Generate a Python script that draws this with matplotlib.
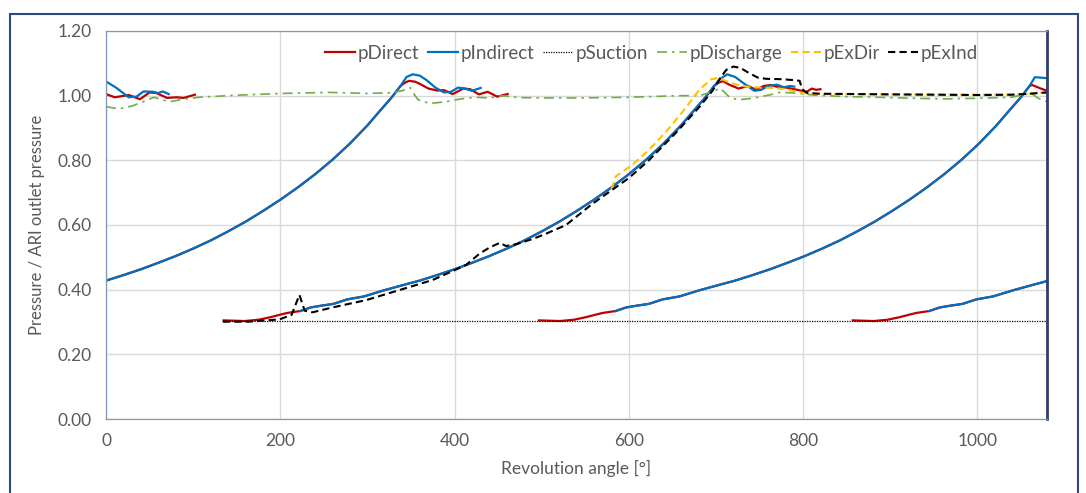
import numpy as np
import matplotlib.pyplot as plt
from matplotlib.patches import Rectangle

plt.rcParams['font.family'] = ['Lato', 'DejaVu Sans']

# one compression stroke: angle after stroke start [deg], p / p_out (pDirect & pIndirect coincide)
stroke_off = [0, 12, 24, 40, 54, 64, 73, 88, 100, 111, 126, 142, 161, 184, 207, 225,
              245, 265, 285, 305, 325, 345, 365, 385, 405, 425, 445, 465, 485, 505,
              525, 540, 553, 563]
stroke_p = [0.305, 0.304, 0.303, 0.307, 0.315, 0.322, 0.328, 0.334, 0.345, 0.350, 0.356,
            0.370, 0.379, 0.398, 0.415, 0.428, 0.445, 0.463, 0.483, 0.504, 0.527, 0.552,
            0.580, 0.610, 0.643, 0.678, 0.716, 0.757, 0.802, 0.852, 0.908, 0.955, 0.995, 1.030]
stroke_start = [-225, 135, 497, 857]
ind_delay = 85  # pIndirect shows up a bit later than pDirect at stroke start

# discharge ringing after each stroke (absolute angle)
tail_dir_x = [[0, 10, 26, 39, 50, 58, 70, 81, 89, 102],
              [343, 348, 355, 362, 370, 380, 388, 398, 410, 418, 428, 438, 449, 461],
              [703, 708, 716, 726, 737, 746, 755, 763, 772, 781, 790, 797, 803, 810, 815, 820],
              [1063, 1072, 1080]]
tail_dir_p = [[1.005, 0.995, 1.002, 0.989, 1.010, 1.008, 0.993, 0.995, 0.993, 1.003],
              [1.040, 1.046, 1.043, 1.034, 1.022, 1.016, 1.017, 1.005, 1.022, 1.020, 1.004, 1.012, 0.997, 1.005],
              [1.040, 1.045, 1.033, 1.022, 1.030, 1.018, 1.030, 1.033, 1.026, 1.025, 1.020, 1.016, 1.010, 1.022, 1.018, 1.020],
              [1.033, 1.023, 1.015]]
tail_ind_x = [[0, 12, 26, 35, 43, 54, 60, 65, 72],
              [345, 352, 360, 368, 378, 388, 396, 404, 412, 420, 430],
              [705, 713, 722, 732, 744, 752, 760, 770, 778, 785, 790],
              [1066, 1072, 1080]]
tail_ind_p = [[1.044, 1.024, 0.995, 0.997, 1.013, 1.012, 1.008, 1.013, 1.005],
              [1.058, 1.066, 1.062, 1.048, 1.025, 1.010, 1.012, 1.025, 1.022, 1.015, 1.024],
              [1.052, 1.066, 1.058, 1.038, 1.015, 1.018, 1.030, 1.034, 1.026, 1.030, 1.028],
              [1.057, 1.056, 1.054]]

suction_x = [135, 1080]
suction_p = [0.302, 0.302]

discharge_x = [0, 15, 31, 46, 55, 65, 73, 88, 107, 146, 203, 257, 299, 329, 344, 349, 354, 358,
               371, 390, 407, 424, 440, 455, 474, 505, 543, 600, 658, 681, 696, 705, 715, 725,
               742, 761, 773, 785, 799, 811, 849, 887, 925, 963, 1001, 1039, 1051, 1062, 1070, 1080]
discharge_p = [0.966, 0.959, 0.969, 0.985, 0.995, 0.987, 0.981, 0.989, 0.995, 1.001, 1.007, 1.010,
               1.007, 1.009, 1.018, 1.025, 1.003, 0.988, 0.976, 0.981, 0.990, 0.995, 0.993, 1.000,
               0.994, 0.993, 0.993, 0.995, 1.000, 1.000, 1.012, 1.023, 0.997, 0.987, 0.992, 1.002,
               1.010, 1.009, 1.006, 1.002, 0.997, 0.995, 0.992, 0.990, 0.992, 0.995, 1.002, 1.007,
               0.992, 0.981]

exdir_x = [580, 582, 585, 604, 623, 643, 662, 681, 694, 703, 712, 722, 735, 750, 765, 780, 792,
           803, 820, 900, 1000, 1040, 1060, 1080]
exdir_p = [0.712, 0.725, 0.750, 0.786, 0.832, 0.889, 0.951, 1.018, 1.050, 1.055, 1.045, 1.035,
           1.028, 1.025, 1.024, 1.020, 1.012, 1.007, 1.005, 1.004, 1.003, 1.003, 1.006, 1.010]

exind_x = [134, 163, 199, 213, 222, 228, 237, 260, 299, 337, 375, 413, 429, 440, 452, 459, 470,
           490, 505, 528, 558, 600, 623, 654, 681, 696, 705, 712, 720, 728, 738, 748, 758, 775,
           790, 796, 799, 805, 820, 900, 1000, 1040, 1060, 1080]
exind_p = [0.301, 0.301, 0.308, 0.322, 0.384, 0.335, 0.330, 0.345, 0.368, 0.399, 0.430, 0.476,
           0.512, 0.530, 0.545, 0.535, 0.540, 0.557, 0.573, 0.600, 0.665, 0.745, 0.800, 0.885,
           0.965, 1.015, 1.055, 1.080, 1.090, 1.086, 1.070, 1.056, 1.052, 1.051, 1.048, 1.046,
           1.020, 1.008, 1.006, 1.004, 1.002, 1.003, 1.006, 1.010]

c_dir = '#C00000'
c_ind = '#0070C0'
c_dis = '#70AD47'
c_exd = '#FFC000'
c_txt = '#595959'

fig = plt.figure(figsize=(10.86, 4.93), dpi=100)
ax = fig.add_axes([106 / 1086, 1 - 419 / 493, 941 / 1086, 388 / 493])

off = np.array(stroke_off)
sp = np.array(stroke_p)

# pDirect
for i, s in enumerate(stroke_start):
    x = list(off + s)
    p = list(sp)
    if i < 3:
        x += tail_dir_x[i + 1]
        p += tail_dir_p[i + 1]
    ax.plot(x, p, color=c_dir, lw=1.6, label='pDirect' if i == 0 else None)
ax.plot(tail_dir_x[0], tail_dir_p[0], color=c_dir, lw=1.6)

# pIndirect
for i, s in enumerate(stroke_start):
    m = off >= ind_delay
    x = list(off[m] + s)
    p = list(sp[m])
    if i < 3:
        x += tail_ind_x[i + 1]
        p += tail_ind_p[i + 1]
    ax.plot(x, p, color=c_ind, lw=1.6, label='pIndirect' if i == 0 else None)
ax.plot(tail_ind_x[0], tail_ind_p[0], color=c_ind, lw=1.6)

ax.plot(suction_x, suction_p, color='black', lw=0.9, ls=(0, (1, 1)), label='pSuction')
ax.plot(discharge_x, discharge_p, color=c_dis, lw=1.2, ls=(0, (6, 3, 1.5, 3)), label='pDischarge')
ax.plot(exdir_x, exdir_p, color=c_exd, lw=1.5, ls=(0, (3.5, 2)), label='pExDir')
ax.plot(exind_x, exind_p, color='black', lw=1.5, ls=(0, (3.5, 2)), label='pExInd')

ax.set_xlim(0, 1080)
ax.set_ylim(0, 1.2)
ax.set_xticks(np.arange(0, 1001, 200))
ax.set_yticks(np.arange(0, 1.21, 0.2))
ax.set_yticklabels([f'{v:.2f}' for v in np.arange(0, 1.21, 0.2)])
ax.grid(color='#D9D9D9', lw=1)
ax.set_axisbelow(True)
ax.tick_params(length=0, labelsize=12.5, colors=c_txt, pad=10)
for side in ['top', 'left', 'bottom']:
    ax.spines[side].set_color('#8497B0')
    ax.spines[side].set_linewidth(0.9)
ax.spines['right'].set_color('#2F3F6F')
ax.spines['right'].set_linewidth(2)

ax.set_xlabel('Revolution angle [°]', fontsize=12.5, color=c_txt, labelpad=8)
ax.set_ylabel('Pressure / ARI outlet pressure', fontsize=12, color=c_txt, labelpad=9)

ax.legend(loc='center', bbox_to_anchor=(0.580, 0.943), ncol=6, frameon=False,
          fontsize=13.5, handlelength=1.6, handletextpad=0.15, columnspacing=0.45,
          labelcolor=c_txt)

fig.patches.append(Rectangle((9.5 / 1086, -0.05), 1068.5 / 1086, 1.05 - 13.5 / 493,
                             transform=fig.transFigure, fill=False,
                             ec='#2F4B7C', lw=1.5))

fig.savefig('out.png', dpi=100)
